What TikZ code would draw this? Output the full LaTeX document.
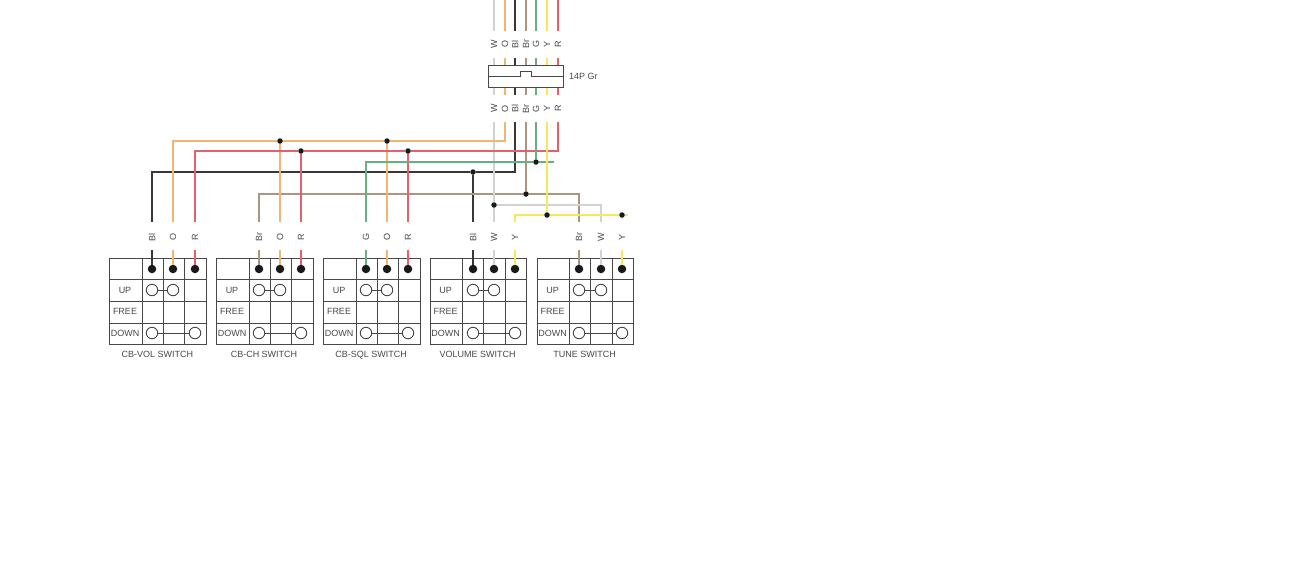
\documentclass[tikz,border=0pt]{standalone}
\usepackage{fontspec}
\setmainfont{Liberation Sans}
\usepackage{tikz}

\definecolor{wireW}{HTML}{D4D2D0}
\definecolor{wireO}{HTML}{F0B56E}
\definecolor{wireBl}{HTML}{383636}
\definecolor{wireBr}{HTML}{AD947E}
\definecolor{wireG}{HTML}{68B082}
\definecolor{wireY}{HTML}{F6E85C}
\definecolor{wireR}{HTML}{E4606A}
\definecolor{inkgray}{HTML}{484848}

\tikzset{
	wire/.style={line width=2pt},
	junction/.style={circle, fill=black!90, inner sep=0pt, minimum size=5.5pt},
	pindot/.style={circle, fill=black!90, inner sep=0pt, minimum size=8.5pt},
	contact/.style={circle, draw=inkgray, fill=white, line width=0.9pt, inner sep=0pt, minimum size=11.5pt},
	bridge/.style={draw=inkgray, line width=0.9pt},
	gridbox/.style={draw=inkgray, line width=0.9pt},
	txt/.style={text=inkgray, font=\fontsize{9}{10}\selectfont, inner sep=0pt},
	wiretxt/.style={txt, rotate=90},
	nametxt/.style={txt, anchor=base}
}

\begin{document}
\begin{tikzpicture}[x=1pt,y=-1pt]
	\useasboundingbox (0,0) rectangle (1296,560);

	% harness above the connector
	\draw[wire,color=wireW] (494,0) -- (494,31);
	\draw[wire,color=wireO] (505,0) -- (505,31);
	\draw[wire,color=wireBl] (515,0) -- (515,31);
	\draw[wire,color=wireBr] (526,0) -- (526,31);
	\draw[wire,color=wireG] (536,0) -- (536,31);
	\draw[wire,color=wireY] (547,0) -- (547,31);
	\draw[wire,color=wireR] (558,0) -- (558,31);

	\node[wiretxt] (uW) at (494,44) {W};
	\node[wiretxt] (uO) at (505,44) {O};
	\node[wiretxt] (uBl) at (515,44) {Bl};
	\node[wiretxt] (uBr) at (526,44) {Br};
	\node[wiretxt] (uG) at (536,44) {G};
	\node[wiretxt] (uY) at (547,44) {Y};
	\node[wiretxt] (uR) at (558,44) {R};

	% connector
	\draw[wire,color=wireW] (494,58) -- (494,95);
	\draw[wire,color=wireO] (505,58) -- (505,95);
	\draw[wire,color=wireBl] (515,58) -- (515,95);
	\draw[wire,color=wireBr] (526,58) -- (526,95);
	\draw[wire,color=wireG] (536,58) -- (536,95);
	\draw[wire,color=wireY] (547,58) -- (547,95);
	\draw[wire,color=wireR] (558,58) -- (558,95);
	\node[gridbox, fill=white, minimum width=75.5pt, minimum height=22pt, inner sep=0pt] (conn) at (525.8,76.5) {};
	\draw[bridge] (conn.west) -- (520,76.5) -- (520,71) -- (531,71) -- (531,76.5) -- (conn.east);
	\node[txt, anchor=west] (connname) at (569,76.5) {14P Gr};

	\node[wiretxt] (lW) at (494,108.5) {W};
	\node[wiretxt] (lO) at (505,108.5) {O};
	\node[wiretxt] (lBl) at (515,108.5) {Bl};
	\node[wiretxt] (lBr) at (526,108.5) {Br};
	\node[wiretxt] (lG) at (536,108.5) {G};
	\node[wiretxt] (lY) at (547,108.5) {Y};
	\node[wiretxt] (lR) at (558,108.5) {R};

	% wire starts below the connector
	\coordinate (sW) at (494,122);
	\coordinate (sO) at (505,122);
	\coordinate (sBl) at (515,122);
	\coordinate (sBr) at (526,122);
	\coordinate (sG) at (536,122);
	\coordinate (sY) at (547,122);
	\coordinate (sR) at (558,122);

	% wire ends above the switches
	\coordinate (e1Bl) at (152,222);
	\coordinate (e1O) at (173,222);
	\coordinate (e1R) at (195,222);
	\coordinate (e2Br) at (259,222);
	\coordinate (e2O) at (280,222);
	\coordinate (e2R) at (301,222);
	\coordinate (e3G) at (366,222);
	\coordinate (e3O) at (387,222);
	\coordinate (e3R) at (408,222);
	\coordinate (e4Bl) at (473,222);
	\coordinate (e4W) at (494,222);
	\coordinate (e4Y) at (515,222);
	\coordinate (e5Br) at (579,222);
	\coordinate (e5W) at (601,222);
	\coordinate (tG) at (554,162);
	\coordinate (tY) at (628,215);

	\node[junction] (jO2) at (280,141) {};
	\node[junction] (jO3) at (387,141) {};
	\node[junction] (jR2) at (301,151) {};
	\node[junction] (jR3) at (408,151) {};
	\node[junction] (jG) at (536,162) {};
	\node[junction] (jBl) at (473,172) {};
	\node[junction] (jBr) at (526,194) {};
	\node[junction] (jW) at (494,205) {};
	\node[junction] (jY) at (547,215) {};
	\node[junction] (jY5) at (622,215) {};

	\draw[wire,color=wireBl] (sBl) |- (jBl) -| (e1Bl);
	\draw[wire,color=wireBl] (jBl) -- (e4Bl);
	\draw[wire,color=wireBr] (sBr) -- (jBr);
	\draw[wire,color=wireBr] (e2Br) |- (jBr) -| (e5Br);
	\draw[wire,color=wireW] (sW) -- (jW) -- (e4W);
	\draw[wire,color=wireW] (jW) -| (e5W);
	\draw[wire,color=wireO] (sO) |- (jO3) -- (jO2) -| (e1O);
	\draw[wire,color=wireO] (jO2) -- (e2O);
	\draw[wire,color=wireO] (jO3) -- (e3O);
	\draw[wire,color=wireR] (sR) |- (jR3) -- (jR2) -| (e1R);
	\draw[wire,color=wireR] (jR2) -- (e2R);
	\draw[wire,color=wireR] (jR3) -- (e3R);
	\draw[wire,color=wireG] (sG) -- (jG);
	\draw[wire,color=wireG] (e3G) |- (jG) -- (tG);
	\draw[wire,color=wireY] (sY) -- (jY);
	\draw[wire,color=wireY] (e4Y) |- (jY) -- (jY5) -- (tY);

	% CB-VOL switch
	\node[wiretxt] (t1a) at (152,237) {Bl};
	\node[wiretxt] (t1b) at (173,237) {O};
	\node[wiretxt] (t1c) at (195,237) {R};
	\draw[gridbox] (109,258) rectangle (206,344) (142,258) -- (142,344) (163,258) -- (163,344) (184,258) -- (184,344) (109,279) -- (206,279) (109,301) -- (206,301) (109,323) -- (206,323);
	\node[pindot] (p1a) at (152,269) {};
	\node[pindot] (p1b) at (173,269) {};
	\node[pindot] (p1c) at (195,269) {};
	\draw[wire,color=wireBl] (152,250) -- (p1a);
	\draw[wire,color=wireO] (173,250) -- (p1b);
	\draw[wire,color=wireR] (195,250) -- (p1c);
	\node[contact] (u1a) at (152,290) {};
	\node[contact] (u1b) at (173,290) {};
	\node[contact] (d1a) at (152,333) {};
	\node[contact] (d1c) at (195,333) {};
	\draw[bridge] (u1a) -- (u1b);
	\draw[bridge] (d1a) -- (d1c);
	\node[txt] (up1) at (125,290) {UP};
	\node[txt] (free1) at (125,311.5) {FREE};
	\node[txt] (down1) at (125,333) {DOWN};
	\node[nametxt] (name1) at (157.3,357) {CB-VOL SWITCH};

	% CB-CH switch
	\node[wiretxt] (t2a) at (259,237) {Br};
	\node[wiretxt] (t2b) at (280,237) {O};
	\node[wiretxt] (t2c) at (301,237) {R};
	\draw[gridbox] (216,258) rectangle (313,344) (249,258) -- (249,344) (270,258) -- (270,344) (291,258) -- (291,344) (216,279) -- (313,279) (216,301) -- (313,301) (216,323) -- (313,323);
	\node[pindot] (p2a) at (259,269) {};
	\node[pindot] (p2b) at (280,269) {};
	\node[pindot] (p2c) at (301,269) {};
	\draw[wire,color=wireBr] (259,250) -- (p2a);
	\draw[wire,color=wireO] (280,250) -- (p2b);
	\draw[wire,color=wireR] (301,250) -- (p2c);
	\node[contact] (u2a) at (259,290) {};
	\node[contact] (u2b) at (280,290) {};
	\node[contact] (d2a) at (259,333) {};
	\node[contact] (d2c) at (301,333) {};
	\draw[bridge] (u2a) -- (u2b);
	\draw[bridge] (d2a) -- (d2c);
	\node[txt] (up2) at (232,290) {UP};
	\node[txt] (free2) at (232,311.5) {FREE};
	\node[txt] (down2) at (232,333) {DOWN};
	\node[nametxt] (name2) at (264,357) {CB-CH SWITCH};

	% CB-SQL switch
	\node[wiretxt] (t3a) at (366,237) {G};
	\node[wiretxt] (t3b) at (387,237) {O};
	\node[wiretxt] (t3c) at (408,237) {R};
	\draw[gridbox] (323,258) rectangle (420,344) (356,258) -- (356,344) (377,258) -- (377,344) (398,258) -- (398,344) (323,279) -- (420,279) (323,301) -- (420,301) (323,323) -- (420,323);
	\node[pindot] (p3a) at (366,269) {};
	\node[pindot] (p3b) at (387,269) {};
	\node[pindot] (p3c) at (408,269) {};
	\draw[wire,color=wireG] (366,250) -- (p3a);
	\draw[wire,color=wireO] (387,250) -- (p3b);
	\draw[wire,color=wireR] (408,250) -- (p3c);
	\node[contact] (u3a) at (366,290) {};
	\node[contact] (u3b) at (387,290) {};
	\node[contact] (d3a) at (366,333) {};
	\node[contact] (d3c) at (408,333) {};
	\draw[bridge] (u3a) -- (u3b);
	\draw[bridge] (d3a) -- (d3c);
	\node[txt] (up3) at (339,290) {UP};
	\node[txt] (free3) at (339,311.5) {FREE};
	\node[txt] (down3) at (339,333) {DOWN};
	\node[nametxt] (name3) at (371,357) {CB-SQL SWITCH};

	% volume switch
	\node[wiretxt] (t4a) at (473,237) {Bl};
	\node[wiretxt] (t4b) at (494,237) {W};
	\node[wiretxt] (t4c) at (515,237) {Y};
	\draw[gridbox] (430,258) rectangle (526,344) (462,258) -- (462,344) (483,258) -- (483,344) (505,258) -- (505,344) (430,279) -- (526,279) (430,301) -- (526,301) (430,323) -- (526,323);
	\node[pindot] (p4a) at (473,269) {};
	\node[pindot] (p4b) at (494,269) {};
	\node[pindot] (p4c) at (515,269) {};
	\draw[wire,color=wireBl] (473,250) -- (p4a);
	\draw[wire,color=wireW] (494,250) -- (p4b);
	\draw[wire,color=wireY] (515,250) -- (p4c);
	\node[contact] (u4a) at (473,290) {};
	\node[contact] (u4b) at (494,290) {};
	\node[contact] (d4a) at (473,333) {};
	\node[contact] (d4c) at (515,333) {};
	\draw[bridge] (u4a) -- (u4b);
	\draw[bridge] (d4a) -- (d4c);
	\node[txt] (up4) at (445.5,290) {UP};
	\node[txt] (free4) at (445.5,311.5) {FREE};
	\node[txt] (down4) at (445.5,333) {DOWN};
	\node[nametxt] (name4) at (477.7,357) {VOLUME SWITCH};

	% tune switch
	\node[wiretxt] (t5a) at (579,237) {Br};
	\node[wiretxt] (t5b) at (601,237) {W};
	\node[wiretxt] (t5c) at (622,237) {Y};
	\draw[gridbox] (537,258) rectangle (633,344) (569,258) -- (569,344) (590,258) -- (590,344) (612,258) -- (612,344) (537,279) -- (633,279) (537,301) -- (633,301) (537,323) -- (633,323);
	\node[pindot] (p5a) at (579,269) {};
	\node[pindot] (p5b) at (601,269) {};
	\node[pindot] (p5c) at (622,269) {};
	\draw[wire,color=wireBr] (579,250) -- (p5a);
	\draw[wire,color=wireW] (601,250) -- (p5b);
	\draw[wire,color=wireY] (622,250) -- (p5c);
	\node[contact] (u5a) at (579,290) {};
	\node[contact] (u5b) at (601,290) {};
	\node[contact] (d5a) at (579,333) {};
	\node[contact] (d5c) at (622,333) {};
	\draw[bridge] (u5a) -- (u5b);
	\draw[bridge] (d5a) -- (d5c);
	\node[txt] (up5) at (552.5,290) {UP};
	\node[txt] (free5) at (552.5,311.5) {FREE};
	\node[txt] (down5) at (552.5,333) {DOWN};
	\node[nametxt] (name5) at (584.7,357) {TUNE SWITCH};
\end{tikzpicture}
\end{document}
